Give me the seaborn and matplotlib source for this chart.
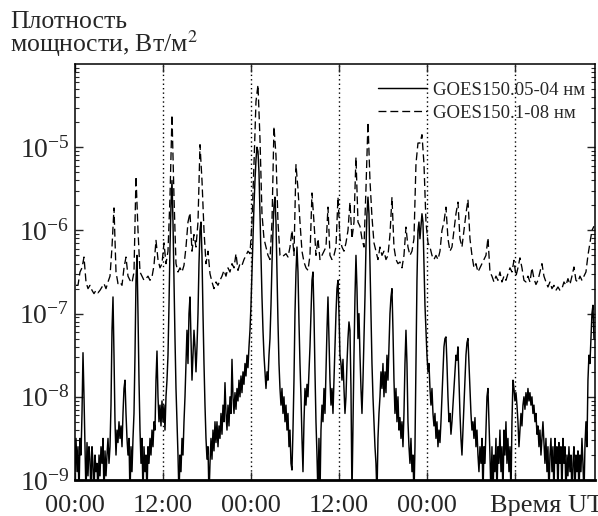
import numpy as np
import pandas as pd
import matplotlib
matplotlib.use("Agg")
import matplotlib.pyplot as plt
from matplotlib.ticker import LogLocator, LogFormatterMathtext, NullFormatter
import seaborn as sns

# ---------------- data (log10 of flux, W/m^2) ----------------
CADENCE_MIN = 8.18          # sampling cadence of the 0.05-0.4 nm channel, minutes

# GOES15 0.05-0.4 nm (solid), one value per sample
solid_log = [
    -8.9, -8.5, -8.9, -8.6, -9.2, -8.5, -8.7, -8.2, -7.47, -8.0, -8.6, -9.2, -8.55, -8.95, -8.6, -8.75, -9.2, -8.6, -8.8, -9.2,
    -8.7, -8.9, -8.8, -9.2, -8.7, -8.95, -8.6, -8.8, -8.5, -9.2, -8.65, -8.95, -8.7, -8.5, -8.8, -8.6, -8.1, -7.2, -6.8, -7.5,
    -8.3, -8.7, -8.4, -8.55, -8.3, -8.5, -8.35, -8.6, -8.2, -7.9, -7.8, -8.2, -8.5, -8.7, -8.5, -9.2, -8.6, -8.9, -8.5, -8.2,
    -7.5, -6.6, -6.3, -7.0, -7.8, -8.4, -8.8, -8.5, -9.2, -8.6, -8.9, -8.7, -9.2, -8.6, -8.8, -8.5, -8.7, -8.4, -8.6, -8.3,
    -8.4, -7.8, -7.45, -8.0, -8.3, -8.1, -8.35, -8.05, -8.3, -8.1, -8.4, -8.0, -7.8, -7.5, -6.9, -6.2, -5.7, -5.4, -5.9, -6.6,
    -7.3, -7.9, -8.3, -8.7, -9.2, -8.7, -8.9, -8.5, -8.7, -8.3, -8.0, -7.6, -7.2, -7.6, -7.0, -6.8, -7.3, -7.8, -7.5, -7.2,
    -7.4, -7.7, -7.4, -7.0, -6.4, -6.0, -5.9, -6.3, -7.0, -7.6, -8.1, -8.5, -8.75, -8.6, -9.2, -8.8, -8.5, -8.75, -8.4, -8.65,
    -8.3, -8.55, -8.3, -8.6, -8.35, -8.5, -8.2, -8.45, -8.1, -8.3, -7.83, -8.2, -8.4, -8.1, -8.35, -8.0, -8.2, -7.55, -8.0, -8.2,
    -7.95, -8.15, -7.9, -8.05, -7.8, -8.0, -7.75, -7.95, -7.7, -7.85, -7.6, -7.75, -7.5, -7.65, -7.4, -7.2, -6.9, -6.5, -6.1, -5.7,
    -5.4, -5.15, -5.0, -5.05, -5.3, -5.8, -6.3, -6.8, -7.2, -7.5, -7.7, -7.9, -7.7, -7.8, -7.5, -7.3, -6.9, -6.4, -6.0, -5.7,
    -5.6, -5.9, -6.5, -7.1, -7.6, -7.9, -8.1, -7.9, -8.2, -8.0, -8.3, -8.1, -8.4, -8.2, -8.6, -8.4, -8.8, -8.88, -8.4, -7.8,
    -7.0, -6.5, -6.2, -6.5, -7.1, -7.6, -8.0, -8.5, -8.9, -8.3, -7.9, -8.1, -7.85, -8.0, -7.7, -7.4, -7.0, -6.6, -6.5, -7.0,
    -7.7, -8.3, -8.7, -9.2, -8.5, -9.2, -8.4, -8.1, -8.3, -7.9, -8.2, -7.7, -7.2, -6.8, -7.3, -7.8, -8.1, -7.9, -8.2, -7.8,
    -7.4, -7.0, -6.7, -6.6, -7.0, -7.5, -7.6, -7.8, -7.55, -7.9, -8.2, -8.0, -7.6, -7.3, -7.1, -7.2, -7.9, -9.2, -8.3, -7.5,
    -6.8, -6.3, -6.7, -7.3, -7.0, -7.5, -7.9, -8.2, -7.8, -7.3, -6.8, -6.2, -5.8, -5.6, -5.8, -6.4, -7.0, -7.6, -8.0, -8.3,
    -8.6, -8.8, -9.2, -8.5, -8.2, -8.0, -7.7, -7.9, -7.6, -8.0, -7.7, -7.95, -7.5, -7.8, -7.4, -7.0, -6.8, -6.7, -7.2, -7.8,
    -8.2, -7.9, -8.3, -8.0, -8.4, -8.25, -8.5, -8.3, -8.6, -8.2, -7.6, -7.2, -7.6, -8.3, -8.6, -8.8, -8.5, -8.9, -8.7, -9.2,
    -8.6, -7.6, -6.6, -6.0, -5.9, -6.1, -5.95, -5.8, -5.9, -6.4, -6.9, -7.2, -7.5, -7.7, -7.6, -7.9, -8.1, -7.9, -8.2, -8.35,
    -8.2, -8.5, -8.3, -8.6, -8.4, -8.55, -8.3, -8.0, -7.7, -7.4, -7.3, -7.28, -7.6, -8.0, -8.3, -8.2, -8.45, -8.3, -8.1, -7.9,
    -7.7, -7.5, -7.56, -7.4, -7.8, -8.2, -8.5, -8.7, -8.4, -8.1, -7.8, -7.5, -7.35, -7.3, -7.6, -7.9, -8.2, -8.4, -8.3, -8.5,
    -8.25, -8.6, -8.4, -8.7, -8.9, -8.6, -8.8, -8.5, -9.2, -8.6, -8.8, -8.4, -8.0, -7.9, -8.3, -8.7, -9.2, -8.6, -9.2, -8.7,
    -8.9, -8.5, -9.2, -8.6, -8.8, -8.4, -8.9, -8.6, -9.2, -8.4, -8.7, -8.3, -8.8, -8.5, -8.9, -8.6, -9.2, -8.3, -7.8, -7.9,
    -8.05, -7.95, -8.1, -8.3, -8.6, -8.4, -8.2, -8.35, -8.1, -8.0, -8.15, -7.95, -8.1, -7.9, -8.05, -7.95, -8.1, -8.0, -8.2, -8.1,
    -8.3, -8.2, -8.45, -8.35, -8.6, -8.4, -8.7, -8.5, -8.3, -8.55, -8.8, -8.5, -8.9, -8.6, -9.2, -8.7, -8.5, -8.9, -8.6, -9.2,
    -8.5, -8.8, -8.6, -9.2, -8.55, -8.8, -8.6, -9.2, -8.5, -8.8, -8.6, -9.2, -8.7, -8.95, -8.6, -8.9, -8.7, -9.2, -8.8, -8.6,
    -9.2, -8.7, -8.9, -8.65, -9.2, -8.7, -8.9, -8.5, -8.8, -9.2, -8.6, -8.3, -8.6, -7.8, -7.5, -7.6, -7.3, -7.0, -6.9, -7.3,
]

# GOES15 0.1-0.8 nm (dashed), every second sample
dashed_log = [
    -6.66, -6.66, -6.50, -6.45, -6.32, -6.62, -6.70, -6.66, -6.72, -6.76, -6.72, -6.75, -6.72, -6.68, -6.64, -6.70, -6.62, -6.55, -6.2, -5.73,
    -6.5, -6.64, -6.62, -6.66, -6.45, -6.32, -6.55, -6.60, -6.63, -6.50, -5.35, -6.0, -6.5, -6.55, -6.6, -6.58, -6.55, -6.60, -6.56, -6.42,
    -6.12, -6.35, -6.45, -6.40, -6.15, -6.40, -6.25, -5.6, -4.61, -5.6, -6.40, -6.50, -6.45, -6.50, -6.42, -6.2, -5.9, -5.79, -6.25, -6.05,
    -6.2, -5.9, -4.97, -5.4, -6.0, -6.4, -6.25, -6.52, -6.62, -6.70, -6.62, -6.66, -6.60, -6.55, -6.48, -6.55, -6.45, -6.50, -6.40, -6.45,
    -6.28, -6.48, -6.40, -6.42, -6.35, -6.30, -6.25, -6.28, -5.9, -5.2, -4.45, -4.25, -4.9, -5.8, -6.10, -6.20, -6.30, -6.35, -5.9, -4.75,
    -5.1, -5.9, -6.3, -6.32, -6.30, -6.28, -6.32, -6.2, -6.0, -6.3, -5.21, -5.5, -5.9, -6.25, -6.38, -6.45, -6.48, -6.30, -5.55, -5.9,
    -6.3, -6.10, -6.35, -6.30, -6.25, -6.20, -5.72, -6.30, -6.35, -6.30, -6.2, -5.6, -6.1, -6.2, -6.25, -6.15, -6.0, -5.66, -6.1, -5.9,
    -5.12, -5.9, -5.95, -6.1, -6.2, -5.5, -4.70, -5.4, -5.84, -6.15, -6.25, -6.35, -6.20, -6.30, -6.25, -6.35, -6.30, -6.05, -5.6, -6.2,
    -6.35, -6.40, -6.38, -6.45, -6.30, -5.96, -6.2, -6.30, -6.25, -6.1, -5.2, -4.95, -4.95, -4.85, -5.2, -5.9, -6.15, -6.20, -6.30, -6.35,
    -6.30, -6.35, -6.25, -6.0, -5.9, -5.72, -6.1, -6.25, -6.20, -6.0, -5.8, -5.66, -6.1, -6.2, -6.0, -5.8, -5.63, -6.1, -6.3, -6.45,
    -6.40, -6.50, -6.45, -6.40, -6.35, -6.30, -6.09, -6.50, -6.55, -6.62, -6.55, -6.60, -6.50, -6.62, -6.55, -6.60, -6.52, -6.45, -6.50, -6.36,
    -6.55, -6.45, -6.33, -6.45, -6.60, -6.62, -6.55, -6.62, -6.45, -6.58, -6.65, -6.60, -6.50, -6.40, -6.55, -6.62, -6.68, -6.62, -6.70, -6.66,
    -6.72, -6.68, -6.72, -6.70, -6.62, -6.66, -6.58, -6.65, -6.55, -6.44, -6.60, -6.62, -6.55, -6.60, -6.55, -6.50, -6.30, -6.15, -6.0, -5.95,
]

series_labels = ["GOES150.05-04 нм", "GOES150.1-08 нм"]
tick_hours = [0, 12, 24, 36, 48, 60]
tick_labels = ["00:00", "12:00", "00:00", "12:00", "00:00", ""]
marker_hours = [12, 24, 36, 48, 60]
ylabel_text = "Плотность\nмощности, Вт/м$^2$"
xlabel_text = "Время UT"

# ---------------- frames ----------------
step_h = CADENCE_MIN / 60.0
solid_df = pd.DataFrame({
    "t": np.arange(len(solid_log)) * step_h,
    "flux": np.power(10.0, np.array(solid_log)),
})
dashed_df = pd.DataFrame({
    "t": (np.arange(len(dashed_log)) * 2 + 1) * step_h,
    "flux": np.power(10.0, np.array(dashed_log)),
})

# ---------------- style ----------------
sns.set_style("white")
plt.rcParams["font.family"] = ["Liberation Serif", "DejaVu Serif"]
plt.rcParams["mathtext.fontset"] = "stix"

fig = plt.figure(figsize=(5.98, 5.16), dpi=100)
ax = fig.add_axes([75 / 598, 1 - 480 / 516, (595 - 75) / 598, (480 - 64) / 516])
ax.set_yscale("log")

sns.lineplot(data=dashed_df, x="t", y="flux", ax=ax, color="black", lw=0.95,
             linestyle=(0, (6, 3)), estimator=None, sort=False, label=series_labels[1])
sns.lineplot(data=solid_df, x="t", y="flux", ax=ax, color="black", lw=1.05,
             estimator=None, sort=False, label=series_labels[0])

for h in marker_hours:
    ax.axvline(h, color="black", lw=1.0, ls=(0, (1, 2.2)), zorder=0)

ax.set_xlim(0, 70.9)
ax.set_ylim(1e-9, 1e-4)
ax.set_xlabel("")
ax.set_ylabel("")

ax.yaxis.set_major_formatter(LogFormatterMathtext())
ax.yaxis.set_minor_locator(LogLocator(base=10, subs=np.arange(2, 10), numticks=100))
ax.yaxis.set_minor_formatter(NullFormatter())
ax.set_yticks([1e-9, 1e-8, 1e-7, 1e-6, 1e-5])
ax.tick_params(axis="y", which="major", direction="in", length=6, width=1,
               labelsize=20, right=True, left=True, pad=4)
ax.tick_params(axis="y", which="minor", direction="in", length=3, width=0.8,
               right=True, left=True)

XPAD = 11
ax.set_xticks(tick_hours)
ax.set_xticklabels(tick_labels)
ax.tick_params(axis="x", direction="in", length=6, width=1, top=True, bottom=True,
               labelsize=19, pad=XPAD)

for s in ax.spines.values():
    s.set_linewidth(1.1)
    s.set_color("black")
ax.spines["bottom"].set_linewidth(2.0)

ax.annotate(xlabel_text, xy=(56.6, 0), xycoords=ax.get_xaxis_transform(),
            xytext=(0, -XPAD), textcoords="offset points",
            ha="left", va="top", fontsize=19, annotation_clip=False)
fig.text(10 / 598, 1 - 11 / 516, ylabel_text, ha="left", va="top",
         fontsize=18.5, linespacing=0.8)

h, l = ax.get_legend_handles_labels()
order = [l.index(series_labels[0]), l.index(series_labels[1])]
leg = ax.legend([h[i] for i in order], [l[i] for i in order], loc="upper right",
                bbox_to_anchor=(0.995, 0.975), frameon=False, fontsize=13.5,
                handlelength=2.6, handletextpad=0.3, labelspacing=0.3,
                borderaxespad=0.0)
leg.get_lines()[1].set_linestyle((0, (6, 3)))

fig.savefig("out.png", dpi=100)
